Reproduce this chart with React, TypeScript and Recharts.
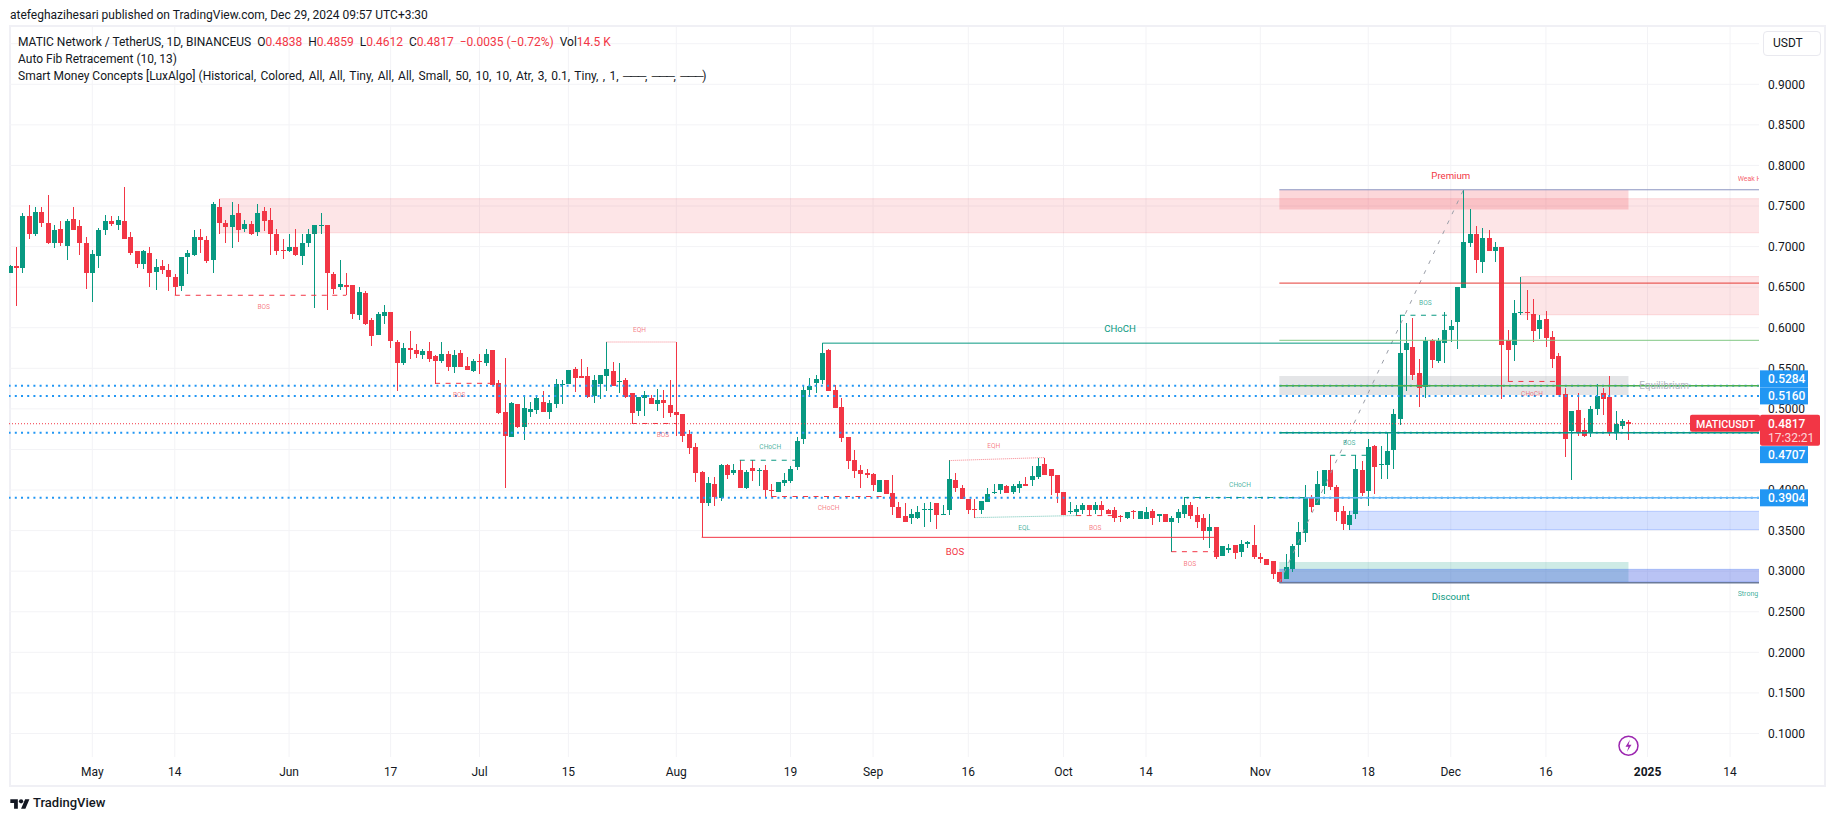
import React from 'react';
import { Bar, CartesianGrid, ComposedChart, ReferenceArea, ReferenceDot, ReferenceLine, XAxis, YAxis } from 'recharts';

const FIRST_DAY = -13; // days counted from May 1 2024
const DAY_MIN = -13.12;
const DAY_MAX = 262.56;
const PRICE_MIN = 0.071;
const PRICE_MAX = 0.9706;
const PLOT_RIGHT = 1759;

const GREEN = '#089981';
const RED = '#f23645';
const BLUE = '#2196f3';

const opens = [
  0.668, 0.676, 0.673, 0.738, 0.716, 0.743, 0.729, 0.705, 0.722, 0.701,
  0.734, 0.725, 0.705, 0.668, 0.689, 0.72, 0.732, 0.727, 0.732, 0.712,
  0.694, 0.679, 0.692, 0.669, 0.676, 0.671, 0.663, 0.651, 0.687, 0.69,
  0.712, 0.708, 0.683, 0.749, 0.729, 0.724, 0.741, 0.722, 0.728, 0.718,
  0.744, 0.733, 0.716, 0.696, 0.694, 0.7, 0.689, 0.705, 0.715, 0.725,
  0.727, 0.666, 0.65, 0.653, 0.653, 0.616, 0.643, 0.61, 0.591, 0.615,
  0.619, 0.582, 0.556, 0.575, 0.572, 0.567, 0.571, 0.565, 0.559, 0.568,
  0.551, 0.569, 0.553, 0.547, 0.559, 0.557, 0.572, 0.532, 0.496, 0.465,
  0.506, 0.478, 0.496, 0.499, 0.509, 0.496, 0.506, 0.53, 0.531, 0.549,
  0.541, 0.54, 0.516, 0.531, 0.541, 0.547, 0.533, 0.535, 0.519, 0.498,
  0.514, 0.514, 0.506, 0.511, 0.505, 0.496, 0.494, 0.469, 0.453, 0.422,
  0.384, 0.407, 0.39, 0.431, 0.421, 0.425, 0.402, 0.427, 0.424, 0.425,
  0.4, 0.397, 0.409, 0.411, 0.428, 0.463, 0.523, 0.532, 0.536, 0.572,
  0.523, 0.502, 0.465, 0.437, 0.425, 0.421, 0.42, 0.397, 0.412, 0.396,
  0.379, 0.368, 0.366, 0.365, 0.375, 0.376, 0.384, 0.37, 0.375, 0.412,
  0.402, 0.389, 0.377, 0.376, 0.385, 0.396, 0.4, 0.405, 0.397, 0.402,
  0.408, 0.412, 0.416, 0.432, 0.426, 0.418, 0.398, 0.373, 0.373, 0.375,
  0.381, 0.375, 0.381, 0.376, 0.375, 0.368, 0.365, 0.374, 0.364, 0.364,
  0.374, 0.368, 0.37, 0.361, 0.365, 0.371, 0.381, 0.369, 0.365, 0.35,
  0.354, 0.319, 0.326, 0.332, 0.324, 0.333, 0.332, 0.317, 0.315, 0.313,
  0.299, 0.29, 0.303, 0.332, 0.347, 0.391, 0.382, 0.405, 0.425, 0.404,
  0.374, 0.357, 0.37, 0.425, 0.399, 0.454, 0.431, 0.431, 0.449, 0.488,
  0.572, 0.576, 0.544, 0.527, 0.585, 0.559, 0.581, 0.597, 0.607, 0.649,
  0.704, 0.715, 0.681, 0.711, 0.694, 0.7, 0.585, 0.579, 0.618, 0.62,
  0.617, 0.598, 0.611, 0.589, 0.565, 0.518, 0.473, 0.499, 0.474, 0.47,
  0.5, 0.52, 0.515, 0.47, 0.479, 0.4838,
];

const highs = [
  0.677, 0.699, 0.741, 0.751, 0.749, 0.749, 0.764, 0.727, 0.732, 0.734,
  0.749, 0.733, 0.712, 0.696, 0.723, 0.739, 0.738, 0.738, 0.774, 0.718,
  0.695, 0.696, 0.7, 0.685, 0.684, 0.679, 0.666, 0.687, 0.696, 0.721,
  0.722, 0.713, 0.755, 0.759, 0.733, 0.755, 0.753, 0.733, 0.732, 0.752,
  0.749, 0.747, 0.722, 0.709, 0.716, 0.722, 0.715, 0.722, 0.727, 0.741,
  0.727, 0.669, 0.684, 0.668, 0.653, 0.65, 0.645, 0.612, 0.619, 0.628,
  0.619, 0.585, 0.581, 0.596, 0.58, 0.574, 0.582, 0.566, 0.582, 0.571,
  0.572, 0.572, 0.564, 0.561, 0.568, 0.574, 0.573, 0.536, 0.563, 0.509,
  0.506, 0.515, 0.509, 0.515, 0.522, 0.511, 0.537, 0.536, 0.548, 0.551,
  0.562, 0.552, 0.542, 0.542, 0.583, 0.558, 0.557, 0.538, 0.519, 0.515,
  0.522, 0.517, 0.525, 0.523, 0.536, 0.582, 0.494, 0.474, 0.458, 0.423,
  0.416, 0.416, 0.432, 0.432, 0.432, 0.437, 0.425, 0.437, 0.427, 0.431,
  0.407, 0.41, 0.421, 0.43, 0.465, 0.528, 0.538, 0.542, 0.581, 0.574,
  0.53, 0.514, 0.465, 0.449, 0.431, 0.426, 0.421, 0.412, 0.412, 0.419,
  0.385, 0.384, 0.377, 0.38, 0.384, 0.385, 0.384, 0.382, 0.437, 0.421,
  0.406, 0.389, 0.389, 0.387, 0.403, 0.408, 0.408, 0.406, 0.407, 0.411,
  0.416, 0.429, 0.44, 0.44, 0.426, 0.418, 0.398, 0.385, 0.382, 0.384,
  0.381, 0.385, 0.387, 0.377, 0.379, 0.369, 0.373, 0.375, 0.374, 0.379,
  0.377, 0.371, 0.371, 0.368, 0.377, 0.391, 0.385, 0.379, 0.371, 0.371,
  0.355, 0.331, 0.333, 0.332, 0.338, 0.337, 0.357, 0.322, 0.315, 0.313,
  0.299, 0.321, 0.334, 0.36, 0.406, 0.394, 0.423, 0.425, 0.4428, 0.406,
  0.38, 0.374, 0.443, 0.436, 0.463, 0.455, 0.454, 0.472, 0.5, 0.6154,
  0.606, 0.612, 0.561, 0.589, 0.586, 0.587, 0.619, 0.61, 0.65, 0.77,
  0.746, 0.725, 0.723, 0.72, 0.706, 0.7, 0.597, 0.634, 0.663, 0.647,
  0.636, 0.616, 0.621, 0.596, 0.569, 0.526, 0.497, 0.52, 0.489, 0.504,
  0.531, 0.526, 0.541, 0.497, 0.488, 0.4859,
];

const lows = [
  0.667, 0.627, 0.667, 0.709, 0.713, 0.724, 0.703, 0.698, 0.701, 0.684,
  0.72, 0.69, 0.648, 0.632, 0.673, 0.714, 0.725, 0.72, 0.709, 0.69,
  0.673, 0.672, 0.65, 0.646, 0.666, 0.645, 0.64, 0.645, 0.666, 0.689,
  0.692, 0.68, 0.667, 0.716, 0.704, 0.698, 0.706, 0.718, 0.714, 0.713,
  0.719, 0.69, 0.69, 0.685, 0.693, 0.688, 0.677, 0.699, 0.624, 0.716,
  0.622, 0.642, 0.647, 0.64, 0.611, 0.61, 0.603, 0.578, 0.591, 0.605,
  0.575, 0.522, 0.554, 0.561, 0.563, 0.562, 0.558, 0.531, 0.557, 0.547,
  0.544, 0.552, 0.548, 0.546, 0.543, 0.553, 0.53, 0.494, 0.403, 0.465,
  0.476, 0.462, 0.49, 0.494, 0.496, 0.488, 0.501, 0.506, 0.531, 0.521,
  0.538, 0.514, 0.507, 0.512, 0.522, 0.528, 0.52, 0.514, 0.482, 0.491,
  0.491, 0.506, 0.498, 0.489, 0.49, 0.467, 0.459, 0.444, 0.41, 0.3417,
  0.38, 0.38, 0.386, 0.413, 0.418, 0.402, 0.401, 0.411, 0.405, 0.392,
  0.391, 0.397, 0.405, 0.409, 0.425, 0.457, 0.516, 0.52, 0.531, 0.522,
  0.501, 0.459, 0.426, 0.415, 0.402, 0.415, 0.399, 0.397, 0.395, 0.369,
  0.366, 0.36, 0.358, 0.364, 0.355, 0.36, 0.352, 0.369, 0.369, 0.398,
  0.389, 0.371, 0.366, 0.371, 0.385, 0.395, 0.395, 0.396, 0.395, 0.396,
  0.405, 0.405, 0.414, 0.419, 0.394, 0.384, 0.369, 0.371, 0.3685, 0.37,
  0.369, 0.37, 0.369, 0.371, 0.361, 0.361, 0.364, 0.364, 0.364, 0.364,
  0.357, 0.36, 0.36, 0.324, 0.359, 0.365, 0.364, 0.353, 0.338, 0.328,
  0.315, 0.319, 0.322, 0.315, 0.318, 0.328, 0.315, 0.31, 0.308, 0.29,
  0.2858, 0.29, 0.299, 0.318, 0.336, 0.373, 0.382, 0.395, 0.4, 0.362,
  0.351, 0.351, 0.364, 0.393, 0.38, 0.395, 0.414, 0.414, 0.426, 0.48,
  0.522, 0.535, 0.502, 0.514, 0.55, 0.556, 0.556, 0.582, 0.574, 0.649,
  0.699, 0.668, 0.668, 0.694, 0.681, 0.512, 0.534, 0.559, 0.616, 0.61,
  0.582, 0.586, 0.576, 0.55, 0.517, 0.441, 0.412, 0.467, 0.465, 0.465,
  0.492, 0.492, 0.467, 0.462, 0.475, 0.4612,
];

const closes = [
  0.676, 0.673, 0.738, 0.715, 0.743, 0.729, 0.705, 0.72, 0.704, 0.732,
  0.72, 0.705, 0.667, 0.691, 0.72, 0.732, 0.728, 0.733, 0.709, 0.692,
  0.679, 0.694, 0.667, 0.675, 0.671, 0.662, 0.65, 0.687, 0.692, 0.712,
  0.708, 0.682, 0.752, 0.729, 0.724, 0.739, 0.72, 0.728, 0.715, 0.742,
  0.731, 0.715, 0.695, 0.695, 0.7, 0.69, 0.705, 0.716, 0.726, 0.727,
  0.668, 0.648, 0.654, 0.65, 0.617, 0.644, 0.604, 0.59, 0.617, 0.619,
  0.584, 0.556, 0.575, 0.572, 0.568, 0.571, 0.561, 0.559, 0.568, 0.551,
  0.567, 0.552, 0.548, 0.559, 0.558, 0.568, 0.53, 0.495, 0.467, 0.507,
  0.478, 0.501, 0.5, 0.514, 0.496, 0.507, 0.531, 0.531, 0.548, 0.538,
  0.538, 0.515, 0.536, 0.542, 0.549, 0.528, 0.534, 0.515, 0.495, 0.515,
  0.517, 0.506, 0.511, 0.507, 0.495, 0.493, 0.467, 0.452, 0.421, 0.384,
  0.409, 0.391, 0.431, 0.418, 0.425, 0.402, 0.422, 0.423, 0.425, 0.4,
  0.399, 0.41, 0.412, 0.426, 0.46, 0.523, 0.528, 0.537, 0.569, 0.522,
  0.501, 0.464, 0.436, 0.423, 0.42, 0.419, 0.406, 0.412, 0.395, 0.379,
  0.366, 0.36, 0.37, 0.373, 0.377, 0.377, 0.369, 0.371, 0.413, 0.402,
  0.389, 0.376, 0.376, 0.387, 0.395, 0.398, 0.408, 0.396, 0.405, 0.408,
  0.405, 0.417, 0.429, 0.419, 0.417, 0.396, 0.369, 0.374, 0.377, 0.381,
  0.375, 0.381, 0.375, 0.371, 0.366, 0.367, 0.373, 0.373, 0.374, 0.373,
  0.365, 0.371, 0.361, 0.366, 0.373, 0.381, 0.368, 0.361, 0.35, 0.355,
  0.318, 0.331, 0.329, 0.323, 0.334, 0.336, 0.318, 0.315, 0.308, 0.297,
  0.287, 0.305, 0.331, 0.348, 0.391, 0.379, 0.407, 0.425, 0.404, 0.373,
  0.358, 0.369, 0.426, 0.396, 0.453, 0.428, 0.432, 0.448, 0.494, 0.569,
  0.581, 0.542, 0.526, 0.584, 0.56, 0.584, 0.597, 0.602, 0.65, 0.706,
  0.715, 0.683, 0.711, 0.694, 0.7, 0.579, 0.572, 0.618, 0.619, 0.619,
  0.596, 0.61, 0.587, 0.561, 0.517, 0.463, 0.497, 0.472, 0.467, 0.5,
  0.516, 0.512, 0.472, 0.481, 0.485, 0.4817,
];

const timeTicks = [0, 13, 31, 47, 61, 75, 92, 110, 123, 138, 153, 166, 184, 201, 214, 229, 245, 258];
const timeLabels = ['May', '14', 'Jun', '17', 'Jul', '15', 'Aug', '19', 'Sep', '16', 'Oct', '14', 'Nov', '18', 'Dec', '16', '2025', '14'];
const priceTicks = [0.1, 0.15, 0.2, 0.25, 0.3, 0.35, 0.4, 0.45, 0.5, 0.55, 0.6, 0.65, 0.7, 0.75, 0.8, 0.85, 0.9, 0.95];
const hiddenPriceLabels = [0.45, 0.95];

const keyLevels = [0.5284, 0.516, 0.4707, 0.3904];
const lastPrice = 0.4817;

// order blocks and premium / discount zones
const supplyZones = [
  { from: 20, to: DAY_MAX, top: 0.759, bottom: 0.717 },
  { from: 225, to: DAY_MAX, top: 0.663, bottom: 0.616 },
];
const demandZones = [{ from: 198, to: DAY_MAX, top: 0.3738, bottom: 0.3512 }];
const strongDemandZones = [{ from: 187, to: DAY_MAX, top: 0.3023, bottom: 0.2867 }];
const premiumZones = [{ from: 187, to: 242, top: 0.77, bottom: 0.7456 }];
const equilibriumZones = [{ from: 187, to: 242, top: 0.5406, bottom: 0.5172 }];
const discountZones = [{ from: 187, to: 242, top: 0.3113, bottom: 0.2858 }];

const bearDashes = [
  { from: 13, to: 40, price: 0.64 },
  { from: 54, to: 63, price: 0.5315 },
  { from: 85, to: 92, price: 0.482 },
  { from: 107, to: 125, price: 0.392 },
  { from: 155, to: 161, price: 0.3685 },
  { from: 170, to: 177, price: 0.324 },
  { from: 223, to: 231, price: 0.5338 },
];
const bullDashes = [
  { from: 102, to: 111, price: 0.4367 },
  { from: 172, to: 191, price: 0.3907 },
  { from: 195, to: 201, price: 0.4428 },
  { from: 206, to: 213.6, price: 0.6154 },
];
const eqHighs = [
  { from: 81, to: 92, start: 0.5824, end: 0.5824 },
  { from: 135, to: 150, start: 0.4363, end: 0.44 },
];
const eqLows = [{ from: 139, to: 155, start: 0.366, end: 0.3685 }];

const bearLabels = [
  { text: 'BOS', day: 27, price: 0.626 },
  { text: 'BOS', day: 57.8, price: 0.518 },
  { text: 'EQH', day: 86.2, price: 0.598 },
  { text: 'BOS', day: 89.9, price: 0.4676 },
  { text: 'CHoCH', day: 116, price: 0.378 },
  { text: 'EQH', day: 142, price: 0.4544 },
  { text: 'BOS', day: 158, price: 0.3537 },
  { text: 'BOS', day: 172.9, price: 0.309 },
  { text: 'CHoCH', day: 226.8, price: 0.519 },
];
const bullLabels = [
  { text: 'CHoCH', day: 106.8, price: 0.4528 },
  { text: 'EQL', day: 146.8, price: 0.3537 },
  { text: 'CHoCH', day: 180.8, price: 0.4063 },
  { text: 'BOS', day: 198, price: 0.4588 },
  { text: 'BOS', day: 210, price: 0.6314 },
];
const bigLabels = [
  { text: 'CHoCH', day: 161.9, price: 0.5987, color: GREEN },
  { text: 'BOS', day: 135.9, price: 0.3238, color: RED },
  { text: 'Premium', day: 214, price: 0.788, color: RED },
  { text: 'Discount', day: 214, price: 0.2686, color: GREEN },
];

const data = opens.map((open, i) => ({
  day: FIRST_DAY + i,
  open,
  high: highs[i],
  low: lows[i],
  close: closes[i],
}));

function Candle(props: any) {
  const { x, y, width, height, payload } = props;
  const { open, high, low, close } = payload;
  const top = Math.min(y, y + height);
  const h = Math.abs(height);
  const toY = (p: number) => top + ((high - p) / (high - low)) * h;
  const color = close >= open ? GREEN : RED;
  const cx = Math.round(x + width / 2 - 0.5);
  const bodyTop = Math.round(toY(Math.max(open, close)));
  const bodyH = Math.max(1, Math.round(toY(Math.min(open, close))) - bodyTop);
  return (
    <g shapeRendering="crispEdges">
      <rect x={cx} y={top} width={1} height={h} fill={color} />
      <rect x={cx - 2} y={bodyTop} width={5} height={bodyH} fill={color} />
    </g>
  );
}

function TimeTick(props: any) {
  const { x, payload } = props;
  const label = timeLabels[timeTicks.indexOf(payload.value)];
  return (
    <text x={x} y={776} textAnchor="middle" fontSize={12} fill="#131722" fontWeight={label === '2025' ? 700 : 400}>
      {label}
    </text>
  );
}

function chartLabel(text: string, color: string, size: number, opacity: number, clip = false) {
  return (props: any) => {
    const { cx, cy } = props;
    if (clip) {
      return (
        <svg x={cx} y={cy - 8} width={PLOT_RIGHT - cx} height={16}>
          <text x={0} y={11} fontSize={size} fill={color} fillOpacity={opacity}>{text}</text>
        </svg>
      );
    }
    return (
      <text x={cx} y={cy + size * 0.35} textAnchor="middle" fontSize={size} fill={color} fillOpacity={opacity}>
        {text}
      </text>
    );
  };
}

function priceTag(text: string, offset: number) {
  return (props: any) => {
    const { cx, cy } = props;
    return (
      <g>
        <rect x={cx + 1} y={cy + offset - 8.5} width={48} height={17} fill={BLUE} />
        <text x={cx + 9} y={cy + offset + 4.5} fontSize={12} fontWeight={500} fill="#fff">{text}</text>
      </g>
    );
  };
}

function lastPriceTag(props: any) {
  const { cx, cy } = props;
  return (
    <g>
      <rect x={cx - 69} y={cy - 9} width={70} height={17} rx={2} fill={RED} />
      <text x={cx - 63} y={cy + 4} fontSize={11} fontWeight={500} fill="#fff" textLength={59} lengthAdjust="spacingAndGlyphs">MATICUSDT</text>
      <rect x={cx + 1} y={cy - 9} width={60} height={31} rx={2} fill={RED} />
      <text x={cx + 9} y={cy + 4} fontSize={12} fontWeight={500} fill="#fff">0.4817</text>
      <text x={cx + 9} y={cy + 18} fontSize={12} fill="#fff" fillOpacity={0.8}>17:32:21</text>
    </g>
  );
}

function boltIcon(props: any) {
  const { cx, cy } = props;
  return (
    <g>
      <circle cx={cx} cy={cy} r={9.5} fill="#fff" stroke="#9c27b0" strokeWidth={1.5} />
      <path d={`M${cx + 1.5} ${cy - 6} L${cx - 3} ${cy + 1} H${cx} L${cx - 1.5} ${cy + 6} L${cx + 3} ${cy - 1} H${cx} Z`} fill="#9c27b0" />
    </g>
  );
}

const overlayText: React.CSSProperties = {
  position: 'absolute',
  whiteSpace: 'pre',
  fontSize: 12,
  lineHeight: '16px',
  color: '#131722',
};

const stretchedRule: React.CSSProperties = { letterSpacing: '-1.2px' };

export default function App() {
  return (
    <div style={{ position: 'absolute', left: 0, top: 0, width: 1835, height: 821, background: '#fff', fontFamily: 'Roboto, sans-serif', overflow: 'hidden' }}>
      <div style={{ position: 'absolute', left: 9, top: 25, width: 1813, height: 758, border: '2px solid #f0f0f5' }} />
      <div style={{ position: 'absolute', left: 0, top: 0 }}>
        <ComposedChart width={1835} height={821} data={data} margin={{ top: 27, right: 10, bottom: 34, left: 9 }}>
          <CartesianGrid stroke="#f3f3f6" horizontalValues={priceTicks} verticalValues={timeTicks} />
          <XAxis
            dataKey="day"
            type="number"
            domain={[DAY_MIN, DAY_MAX]}
            allowDataOverflow
            ticks={timeTicks}
            interval={0}
            height={30}
            axisLine={false}
            tickLine={false}
            tick={<TimeTick />}
          />
          <YAxis
            orientation="right"
            type="number"
            width={66}
            domain={[PRICE_MIN, PRICE_MAX]}
            ticks={priceTicks}
            interval={0}
            axisLine={false}
            tickLine={false}
            tickMargin={3}
            tick={{ fill: '#131722', fontSize: 12 }}
            tickFormatter={(v: number) => (hiddenPriceLabels.includes(v) ? '' : v.toFixed(4))}
          />

          {supplyZones.map((z, i) => (
            <ReferenceArea key={`sup${i}`} x1={z.from} x2={z.to} y1={z.bottom} y2={z.top} fill={RED} fillOpacity={0.13} stroke="none" />
          ))}
          {premiumZones.map((z, i) => (
            <ReferenceArea key={`pre${i}`} x1={z.from} x2={z.to} y1={z.bottom} y2={z.top} fill={RED} fillOpacity={0.2} stroke="none" />
          ))}
          {equilibriumZones.map((z, i) => (
            <ReferenceArea key={`eq${i}`} x1={z.from} x2={z.to} y1={z.bottom} y2={z.top} fill="#787b86" fillOpacity={0.2} stroke="none" />
          ))}
          {discountZones.map((z, i) => (
            <ReferenceArea key={`dis${i}`} x1={z.from} x2={z.to} y1={z.bottom} y2={z.top} fill={GREEN} fillOpacity={0.2} stroke="none" />
          ))}
          {demandZones.map((z, i) => (
            <ReferenceArea key={`dem${i}`} x1={z.from} x2={z.to} y1={z.bottom} y2={z.top} fill="#2962ff" fillOpacity={0.2} stroke="none" />
          ))}
          {strongDemandZones.map((z, i) => (
            <ReferenceArea key={`str${i}`} x1={z.from} x2={z.to} y1={z.bottom} y2={z.top} fill="#2948de" fillOpacity={0.33} stroke="none" />
          ))}
          {supplyZones.flatMap((z, i) => [z.top, z.bottom].map((p, j) => (
            <ReferenceLine key={`supe${i}${j}`} segment={[{ x: z.from, y: p }, { x: z.to, y: p }]} stroke={RED} strokeOpacity={0.15} />
          )))}
          {[...demandZones, ...strongDemandZones].flatMap((z, i) => [z.top, z.bottom].map((p, j) => (
            <ReferenceLine key={`deme${i}${j}`} segment={[{ x: z.from, y: p }, { x: z.to, y: p }]} stroke="#2962ff" strokeOpacity={0.25} />
          )))}

          {keyLevels.map((p) => (
            <ReferenceLine key={`lvl${p}`} y={p} stroke={BLUE} strokeWidth={2} strokeDasharray="2 4.2" />
          ))}
          <ReferenceLine y={lastPrice} stroke={RED} strokeDasharray="1 2" />

          <Bar dataKey={(d: any) => [d.low, d.high]} barSize={5} shape={<Candle />} isAnimationActive={false} />

          <ReferenceLine segment={[{ x: 187, y: 0.2858 }, { x: 216, y: 0.77 }]} stroke="#9a9ea8" strokeDasharray="4 7" />
          <ReferenceLine segment={[{ x: 187, y: 0.77 }, { x: DAY_MAX, y: 0.77 }]} stroke="#8a94c0" />
          <ReferenceLine segment={[{ x: 187, y: 0.655 }, { x: DAY_MAX, y: 0.655 }]} stroke="#e53935" />
          <ReferenceLine segment={[{ x: 187, y: 0.5845 }, { x: DAY_MAX, y: 0.5845 }]} stroke="#81c784" />
          <ReferenceLine segment={[{ x: 187, y: 0.5284 }, { x: DAY_MAX, y: 0.5284 }]} stroke="#4caf50" strokeWidth={1.5} />
          <ReferenceLine segment={[{ x: 187, y: 0.4707 }, { x: DAY_MAX, y: 0.4707 }]} stroke={GREEN} strokeWidth={1.5} />
          <ReferenceLine segment={[{ x: 187, y: 0.3904 }, { x: DAY_MAX, y: 0.3904 }]} stroke="#64b5f6" strokeWidth={1.5} />
          <ReferenceLine segment={[{ x: 187, y: 0.2858 }, { x: DAY_MAX, y: 0.2858 }]} stroke="#6b7a99" strokeWidth={1.5} />

          <ReferenceLine segment={[{ x: 96, y: 0.3417 }, { x: 177, y: 0.3417 }]} stroke={RED} />
          <ReferenceLine segment={[{ x: 115, y: 0.581 }, { x: 206, y: 0.581 }]} stroke={GREEN} />
          {bearDashes.map((l, i) => (
            <ReferenceLine key={`bd${i}`} segment={[{ x: l.from, y: l.price }, { x: l.to, y: l.price }]} stroke={RED} strokeDasharray="5 5.5" />
          ))}
          {bullDashes.map((l, i) => (
            <ReferenceLine key={`gd${i}`} segment={[{ x: l.from, y: l.price }, { x: l.to, y: l.price }]} stroke={GREEN} strokeDasharray="5 5.5" />
          ))}
          {eqHighs.map((l, i) => (
            <ReferenceLine key={`eh${i}`} segment={[{ x: l.from, y: l.start }, { x: l.to, y: l.end }]} stroke={RED} strokeOpacity={0.6} strokeDasharray="1 1" />
          ))}
          {eqLows.map((l, i) => (
            <ReferenceLine key={`el${i}`} segment={[{ x: l.from, y: l.start }, { x: l.to, y: l.end }]} stroke={GREEN} strokeOpacity={0.6} strokeDasharray="1 1" />
          ))}

          {bearLabels.map((l, i) => (
            <ReferenceDot key={`bl${i}`} x={l.day} y={l.price} shape={chartLabel(l.text, RED, 6.6, 0.65)} />
          ))}
          {bullLabels.map((l, i) => (
            <ReferenceDot key={`gl${i}`} x={l.day} y={l.price} shape={chartLabel(l.text, GREEN, 6.6, 0.75)} />
          ))}
          {bigLabels.map((l, i) => (
            <ReferenceDot key={`big${i}`} x={l.day} y={l.price} shape={chartLabel(l.text, l.color, 9.6, 1)} />
          ))}
          <ReferenceDot x={247.6} y={0.529} shape={chartLabel('Equilibrium', '#b2b5be', 10, 1)} />
          <ReferenceDot x={259.2} y={0.7845} shape={chartLabel('Weak High', RED, 7, 0.8, true)} />
          <ReferenceDot x={259.2} y={0.2727} shape={chartLabel('Strong Low', GREEN, 7, 0.8, true)} />
          <ReferenceDot x={242} y={0.085} shape={boltIcon} />
        </ComposedChart>
      </div>

      {/* second layer with the same scales, so the price tags sit above the axis labels */}
      <div style={{ position: 'absolute', left: 0, top: 0 }}>
        <ComposedChart width={1835} height={821} data={data} margin={{ top: 27, right: 76, bottom: 64, left: 9 }}>
          <XAxis dataKey="day" type="number" domain={[DAY_MIN, DAY_MAX]} allowDataOverflow hide />
          <YAxis type="number" domain={[PRICE_MIN, PRICE_MAX]} allowDataOverflow hide />
          <ReferenceDot x={DAY_MAX} y={0.5284} ifOverflow="visible" shape={priceTag('0.5284', -7)} />
          <ReferenceDot x={DAY_MAX} y={0.516} ifOverflow="visible" shape={priceTag('0.5160', 0)} />
          <ReferenceDot x={DAY_MAX} y={0.4707} ifOverflow="visible" shape={priceTag('0.4707', 22)} />
          <ReferenceDot x={DAY_MAX} y={0.3904} ifOverflow="visible" shape={priceTag('0.3904', 0)} />
          <ReferenceDot x={DAY_MAX} y={lastPrice} ifOverflow="visible" shape={lastPriceTag} />
        </ComposedChart>
      </div>

      <div style={{ ...overlayText, left: 10, top: 7 }}>atefeghazihesari published on TradingView.com, Dec 29, 2024 09:57 UTC+3:30</div>
      <div style={{ ...overlayText, left: 18, top: 34 }}>
        {'MATIC Network / TetherUS, 1D, BINANCEUS  O'}
        <span style={{ color: RED }}>0.4838</span>
        {'  H'}
        <span style={{ color: RED }}>0.4859</span>
        {'  L'}
        <span style={{ color: RED }}>0.4612</span>
        {'  C'}
        <span style={{ color: RED }}>0.4817  −0.0035 (−0.72%)</span>
        {'  Vol'}
        <span style={{ color: RED }}>14.5 K</span>
      </div>
      <div style={{ ...overlayText, left: 18, top: 51 }}>Auto Fib Retracement (10, 13)</div>
      <div style={{ ...overlayText, left: 18, top: 68 }}>
        {'Smart Money Concepts [LuxAlgo] '}
        <span style={{ wordSpacing: '1.4px' }}>
          {'(Historical, Colored, All, All, Tiny, All, All, Small, 50, 10, 10, Atr, 3, 0.1, Tiny, , 1, '}
          <span style={stretchedRule}>───</span>{', '}
          <span style={stretchedRule}>───</span>{', '}
          <span style={stretchedRule}>───</span>{')'}
        </span>
      </div>

      <div style={{ position: 'absolute', left: 1763, top: 31, width: 58, height: 25, boxSizing: 'border-box', border: '1px solid #e9e9ef', borderRadius: 4, background: '#fff', fontSize: 12, lineHeight: '23px', paddingLeft: 9, color: '#131722' }}>USDT</div>

      <svg style={{ position: 'absolute', left: 10, top: 797 }} width={20} height={14} viewBox="0 0 36 26">
        <path d="M14 22H7V11H0V4h14v18zM28 22h-8l7.5-18h8L28 22z" fill="#131722" />
        <circle cx="20" cy="8" r="4" fill="#131722" />
      </svg>
      <div style={{ ...overlayText, left: 33, top: 795, fontSize: 13, fontWeight: 500 }}>TradingView</div>
    </div>
  );
}
